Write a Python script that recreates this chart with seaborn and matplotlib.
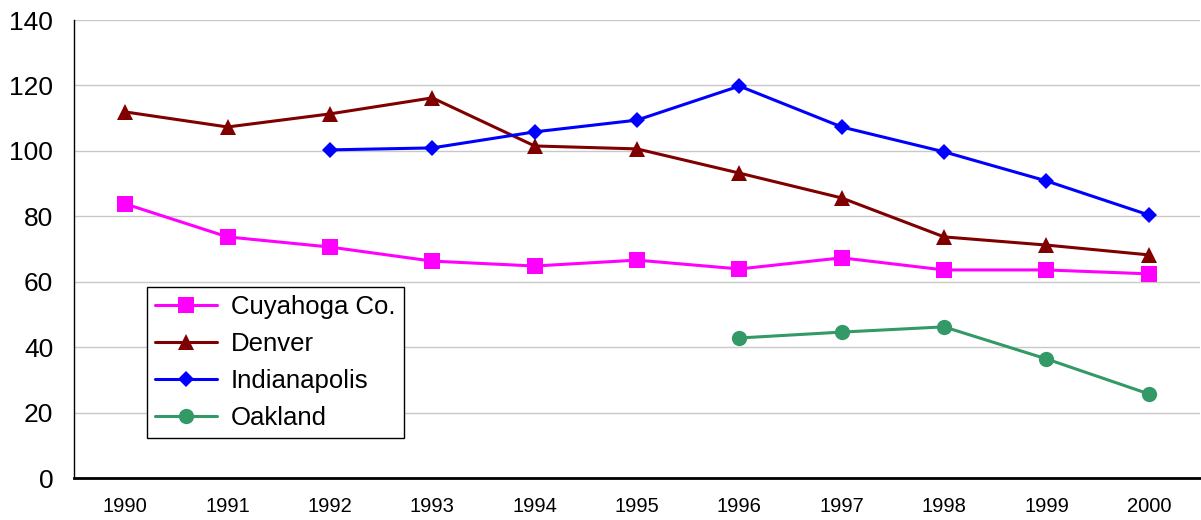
import numpy as np
import pandas as pd
import seaborn as sns
import matplotlib.pyplot as plt
from matplotlib.ticker import FixedLocator, NullFormatter

years = ["1990", "1991", "1992", "1993", "1994", "1995", "1996", "1997", "1998", "1999", "2000"]

cuyahoga = [83.8, 73.7, 70.6, 66.3, 64.8, 66.6, 63.9, 67.3, 63.6, 63.6, 62.4]
denver = [111.9, 107.3, 111.3, 116.2, 101.5, 100.6, 93.2, 85.6, 73.7, 71.2, 68.2]
indianapolis = [np.nan, np.nan, 100.3, 100.9, 105.8, 109.4, 119.8, 107.3, 99.7, 90.8, 80.4]
oakland = [np.nan, np.nan, np.nan, np.nan, np.nan, np.nan, 42.8, 44.6, 46.2, 36.4, 25.7]

series = [
    ("Cuyahoga Co.", cuyahoga, "#FF00FF", "s", 11.5),
    ("Denver", denver, "#800000", "^", 12),
    ("Indianapolis", indianapolis, "#0000FF", "D", 8),
    ("Oakland", oakland, "#339966", "o", 11),
]

sns.set_style("white")
plt.rcParams["font.family"] = ["Liberation Sans", "DejaVu Sans"]
plt.rcParams["text.color"] = "black"
plt.rcParams["xtick.color"] = "black"
plt.rcParams["ytick.color"] = "black"

fig = plt.figure(figsize=(12.01, 5.2), dpi=100)
ax = fig.add_axes([74 / 1201, 42 / 520, 1126 / 1201, 458 / 520])

pos = np.arange(len(years))
for name, vals, color, marker, ms in series:
    df = pd.DataFrame({"pos": pos, "value": vals}).dropna()
    sns.lineplot(data=df, x="pos", y="value", ax=ax, color=color, marker=marker,
                 markersize=ms, markeredgewidth=0, linewidth=2.2, label=name)

ax.set_xlim(-0.5, len(years) - 0.5)
ax.set_ylim(0, 140)
ax.set_yticks(range(0, 141, 20))
ax.set_xticks(pos)
ax.set_xticklabels(years, fontsize=14.5)
ax.xaxis.set_minor_locator(FixedLocator(np.arange(-0.5, len(years), 1.0)))
ax.xaxis.set_minor_formatter(NullFormatter())
ax.tick_params(axis="x", which="major", length=0, pad=14)
ax.tick_params(axis="x", which="minor", length=5, width=1, color="black", direction="out")
ax.tick_params(axis="y", length=6, width=1, color="black", direction="out", labelsize=19, pad=9)
ax.yaxis.grid(True, color="#c8c8c8", linewidth=1)
ax.set_axisbelow(True)
ax.set_xlabel("")
ax.set_ylabel("")

for side in ["top", "right"]:
    ax.spines[side].set_visible(False)
for side in ["left", "bottom"]:
    ax.spines[side].set_color("black")
ax.spines["left"].set_linewidth(1)
ax.spines["bottom"].set_linewidth(2)

leg = ax.legend(loc="upper left", bbox_to_anchor=(73 / 1126, 191 / 458), fontsize=18.5,
                frameon=True, fancybox=False, edgecolor="black", framealpha=1,
                borderpad=0.32, labelspacing=0.5, handlelength=2.4, handletextpad=0.55,
                borderaxespad=0)
leg.get_frame().set_linewidth(1)

plt.savefig("out.png", dpi=100)
